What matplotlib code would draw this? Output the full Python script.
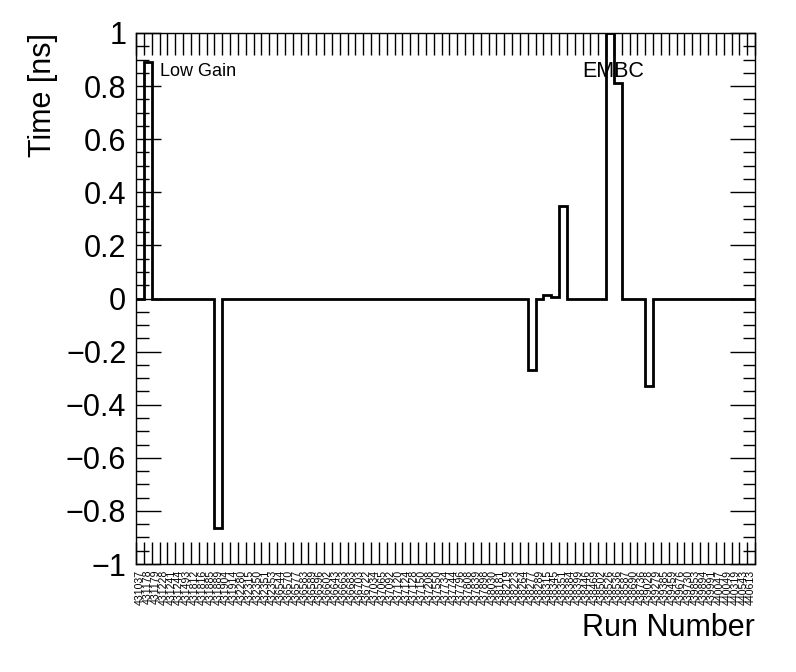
import numpy as np
import matplotlib
matplotlib.use('Agg')
import matplotlib.pyplot as plt
from matplotlib.ticker import MultipleLocator

plt.rcParams['font.family'] = ['Liberation Sans', 'DejaVu Sans']

# Run numbers (one bin per run)
runs = [
    431037, 431178, 431179, 431228, 431241, 431244, 431493, 431812, 431816, 431885,
    431889, 431904, 431914, 432280, 432315, 432350, 432351, 432353, 436544, 436570,
    436577, 436583, 436589, 436596, 436602, 436643, 436663, 436683, 436703, 436722,
    437034, 437065, 437092, 437120, 437124, 437128, 437150, 437208, 437550, 437734,
    437744, 437796, 437808, 437839, 437898, 438030, 438181, 438219, 438223, 438264,
    438277, 438289, 438315, 438345, 438351, 438384, 438399, 438446, 438469, 438502,
    438526, 438536, 438587, 438690, 438736, 439028, 439279, 439385, 439459, 439676,
    439730, 439853, 439894, 439991, 440047, 440049, 440319, 440543, 440613,
]

# Time shift per run [ns]; zero unless listed
shifts = {
    431178: 0.89,
    431889: -0.865,
    438277: -0.27,
    438315: 0.012,
    438345: 0.006,
    438351: 0.35,
    438526: 1.0,
    438536: 0.81,
    439028: -0.33,
}
values = [shifts.get(r, 0.0) for r in runs]

nbins = len(runs)
edges = np.arange(nbins + 1)
centers = edges[:-1] + 0.5

fig = plt.figure(figsize=(7.96, 6.72), dpi=100)
ax = fig.add_axes([0.1709, 0.1607, 0.7776, 0.7902])

ax.stairs(values, edges, baseline=None, color='black', linewidth=2.0)

ax.set_xlim(0, nbins)
ax.set_ylim(-1, 1)

# x axis: ticks at bin edges, labels at bin centres
ax.set_xticks(edges)
ax.set_xticklabels([])
ax.set_xticks(centers, minor=True)
ax.set_xticklabels([str(r) for r in runs], minor=True, rotation=90,
                   fontsize=7.6, va='top', ha='center')
ax.tick_params(axis='x', which='major', direction='in', length=16, width=1,
               top=True, bottom=True)
ax.tick_params(axis='x', which='minor', length=0, pad=4)

# y axis
ax.yaxis.set_major_locator(MultipleLocator(0.2))
ax.yaxis.set_minor_locator(MultipleLocator(0.05))
ax.set_yticks(np.arange(-1, 1.01, 0.2))
ax.set_yticklabels(['\u22121', '\u22120.8', '\u22120.6', '\u22120.4', '\u22120.2',
                    '0', '0.2', '0.4', '0.6', '0.8', '1'])
ax.tick_params(axis='y', which='major', direction='in', length=18, width=1,
               left=True, right=True, labelsize=22, pad=7)
ax.tick_params(axis='y', which='minor', direction='in', length=9, width=1,
               left=True, right=True)

for s in ax.spines.values():
    s.set_linewidth(1.0)

ax.set_ylabel('Time [ns]', fontsize=22, loc='top', labelpad=6)
ax.set_xlabel('Run Number', fontsize=22, loc='right', labelpad=6)

ax.text(3.0, 0.855, 'Low Gain', fontsize=13, va='center', ha='left')
ax.text(56.9, 0.855, 'EMBC', fontsize=15.5, va='center', ha='left')

fig.savefig('out.png', dpi=100)
